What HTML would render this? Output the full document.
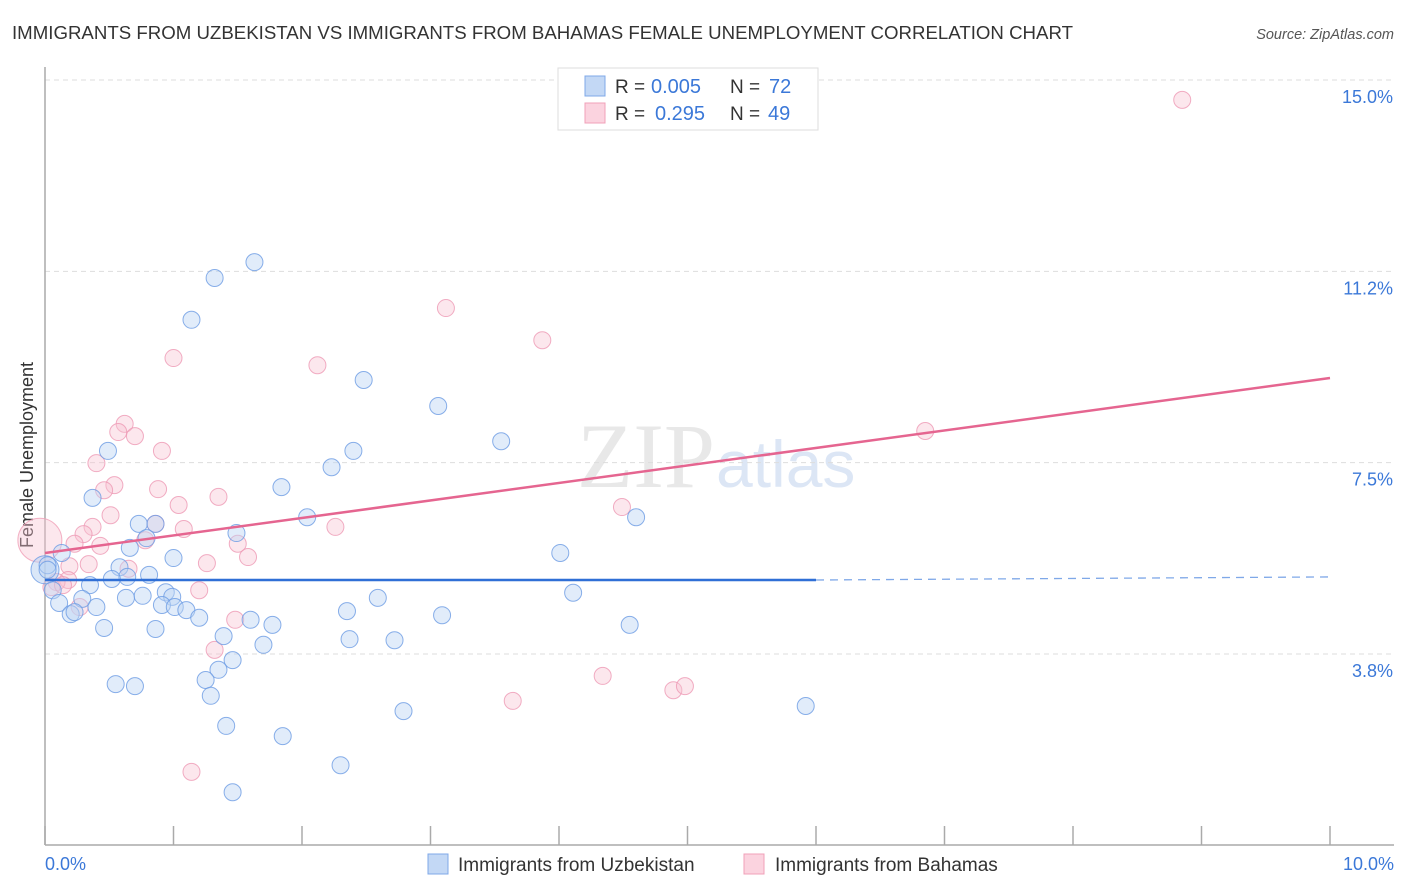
<!DOCTYPE html>
<html><head><meta charset="utf-8"><style>
body{margin:0;background:#fff;font-family:"Liberation Sans",sans-serif;}
#wrap{position:relative;width:1406px;height:892px;overflow:hidden;}
</style></head><body>
<div id="wrap">
<svg id="svg" width="1406" height="892" xmlns="http://www.w3.org/2000/svg">
<text x="12" y="39" font-size="18.5" fill="#333" textLength="1061" lengthAdjust="spacingAndGlyphs">IMMIGRANTS FROM UZBEKISTAN VS IMMIGRANTS FROM BAHAMAS FEMALE UNEMPLOYMENT CORRELATION CHART</text>
<text x="1394" y="39" font-size="14.5" fill="#555" font-style="italic" text-anchor="end">Source: ZipAtlas.com</text>
<text x="33" y="455" font-size="18" fill="#333" text-anchor="middle" transform="rotate(-90 33 455)">Female Unemployment</text>
<text x="715" y="487" font-size="92" fill="#e8e8e8" text-anchor="end" font-family="Liberation Serif,serif">ZIP</text>
<text x="716" y="487" font-size="66" fill="#dce6f5">atlas</text>
<g id="grid"></g><g id="axes"></g><g id="pts"></g><g id="lines"></g>
<g>
<rect x="558" y="68" width="260" height="62" fill="#fff" stroke="#ddd"/>
<rect x="585" y="76" width="20" height="20" fill="#c3d8f5" stroke="#7fa8e8"/>
<rect x="585" y="103" width="20" height="20" fill="#fbd3df" stroke="#f0a0b8"/>
<text x="615" y="93" font-size="19" fill="#333">R =</text>
<text x="651" y="93" font-size="20" fill="#3b78d8">0.005</text>
<text x="730" y="93" font-size="19" fill="#333">N =</text>
<text x="769" y="93" font-size="20" fill="#3b78d8">72</text>
<text x="615" y="120" font-size="19" fill="#333">R =</text>
<text x="655" y="120" font-size="20" fill="#3b78d8">0.295</text>
<text x="730" y="120" font-size="19" fill="#333">N =</text>
<text x="768" y="120" font-size="20" fill="#3b78d8">49</text>
</g>
<g>
<rect x="428" y="854" width="20" height="20" fill="#c3d8f5" stroke="#7fa8e8"/>
<text x="458" y="871" font-size="19" fill="#333">Immigrants from Uzbekistan</text>
<rect x="744" y="854" width="20" height="20" fill="#fbd3df" stroke="#f0a0b8"/>
<text x="775" y="871" font-size="19" fill="#333">Immigrants from Bahamas</text>
</g>
</svg>
</div>
<script>
const yTicks=[15,11.25,7.5,3.75];
const yTickLabels=["15.0%","11.2%","7.5%","3.8%"];
const xTickValues=[0,1,2,3,4,5,6,7,8,9,10];
const xLabels=["0.0%","10.0%"];
const blueX=[1.63,1.32,1.14,2.48,3.06,3.55,2.40,0.49,2.23,1.84,0.37,2.04,4.60,0.73,0.86,1.49,0.79,0.66,4.01,0.13,1.00,0.02,0.58,0.64,0.81,0.52,0.35,0.06,4.11,0.94,0.63,0.76,2.59,0.99,0.29,0.91,1.01,1.10,0.11,0.40,2.35,3.09,1.20,0.20,0.23,1.60,1.77,4.55,0.46,0.86,1.39,2.37,2.72,1.70,1.46,1.35,1.25,0.55,0.70,1.29,2.79,5.92,1.41,1.85,2.30,1.46,0.02];
const blueY=[11.43,11.12,10.30,9.12,8.61,7.92,7.73,7.73,7.41,7.02,6.81,6.43,6.43,6.30,6.30,6.12,6.02,5.83,5.73,5.73,5.63,5.49,5.45,5.26,5.30,5.22,5.10,5.00,4.95,4.96,4.85,4.89,4.85,4.87,4.83,4.71,4.67,4.61,4.75,4.67,4.59,4.51,4.46,4.53,4.57,4.42,4.32,4.32,4.26,4.24,4.10,4.04,4.02,3.93,3.63,3.44,3.24,3.16,3.12,2.93,2.63,2.73,2.34,2.14,1.57,1.04,5.40];
const pinkX=[8.85,3.12,3.87,1.00,2.12,6.85,0.62,0.57,0.70,0.91,0.40,0.54,0.46,0.88,1.35,1.04,0.51,4.49,0.86,0.37,2.26,1.08,0.30,0.78,1.50,0.43,0.23,1.58,1.26,0.34,0.19,0.65,0.18,0.09,0.05,0.14,1.20,1.48,0.27,1.32,4.34,4.89,4.98,3.64,1.14];
const pinkY=[14.61,10.53,9.90,9.55,9.41,8.12,8.26,8.10,8.02,7.73,7.49,7.06,6.96,6.98,6.83,6.67,6.47,6.63,6.30,6.24,6.24,6.20,6.10,5.98,5.91,5.87,5.91,5.65,5.53,5.51,5.47,5.42,5.20,5.16,5.06,5.10,5.00,4.42,4.67,3.83,3.32,3.04,3.12,2.83,1.44];
const bigBlue=[0.0,5.40];
const bigPink=[-0.04,5.98];
const blueTrend=[[0,5.20],[6.0,5.20],[10,5.26]];
const pinkTrend=[[0,5.73],[10,9.16]];
const NS="http://www.w3.org/2000/svg";
const X=v=>45+v*128.5, Y=v=>80+(15-v)*51.02;
function mk(tag,attrs,parent){const e=document.createElementNS(NS,tag);for(const k in attrs)e.setAttribute(k,attrs[k]);document.getElementById(parent).appendChild(e);return e;}
yTicks.forEach((t,i)=>{
  const l=mk('line',{x1:45,x2:1394,y1:Y(t),y2:Y(t),stroke:'#ddd','stroke-dasharray':'5,4'},'grid');
  
  
  const tx=mk('text',{x:1393,y:Y(t)+23,'font-size':18,fill:'#3b78d8','text-anchor':'end'},'grid');
  tx.textContent=yTickLabels[i];
  
  
});
const ya=mk('line',{x1:45,x2:45,y1:67,y2:845,stroke:'#aaa','stroke-width':1.5},'axes');


const xa=mk('line',{x1:45,x2:1394,y1:845,y2:845,stroke:'#aaa','stroke-width':1.5},'axes');


xTickValues.forEach(t=>{
  const l=mk('line',{x1:X(t),x2:X(t),y1:826,y2:845,stroke:'#aaa','stroke-width':1.5},'axes');
  
  
});
const xl0=mk('text',{x:45,y:870,'font-size':18,fill:'#3b78d8'},'axes');xl0.textContent=xLabels[0];


const xl1=mk('text',{x:1394,y:870,'font-size':18,fill:'#3b78d8','text-anchor':'end'},'axes');xl1.textContent=xLabels[1];


function dot(x,y,r,fill,stroke,name,op){
  const c=mk('circle',{cx:X(x),cy:Y(y),r:r,fill:fill,'fill-opacity':op,stroke:stroke,'stroke-opacity':0.8,'stroke-width':1},'pts');
  
  
}
dot(bigPink[0],bigPink[1],22,'#f8c3d3','#f0a0b8','bahamas-point-large',0.4);
pinkX.forEach((x,i)=>dot(x,pinkY[i],8.5,'#f8c3d3','#ee99b4','bahamas-point',0.4));
dot(bigBlue[0],bigBlue[1],14,'#b5cff2','#6b9be4','uzbekistan-point-large',0.5);
blueX.forEach((x,i)=>dot(x,blueY[i],8.5,'#bcd4f4','#6b9be4','uzbekistan-point',0.45));
const b1=mk('line',{x1:X(blueTrend[0][0]),y1:Y(blueTrend[0][1]),x2:X(blueTrend[1][0]),y2:Y(blueTrend[1][1]),stroke:'#2f6fd6','stroke-width':2.5},'lines');


const b2=mk('line',{x1:X(blueTrend[1][0]),y1:Y(blueTrend[1][1]),x2:X(blueTrend[2][0]),y2:Y(blueTrend[2][1]),stroke:'#7fa8e8','stroke-width':1.3,'stroke-dasharray':'8,6'},'lines');


const p1=mk('line',{x1:X(pinkTrend[0][0]),y1:Y(pinkTrend[0][1]),x2:X(pinkTrend[1][0]),y2:Y(pinkTrend[1][1]),stroke:'#e56590','stroke-width':2.5},'lines');


</script>
</body></html>
